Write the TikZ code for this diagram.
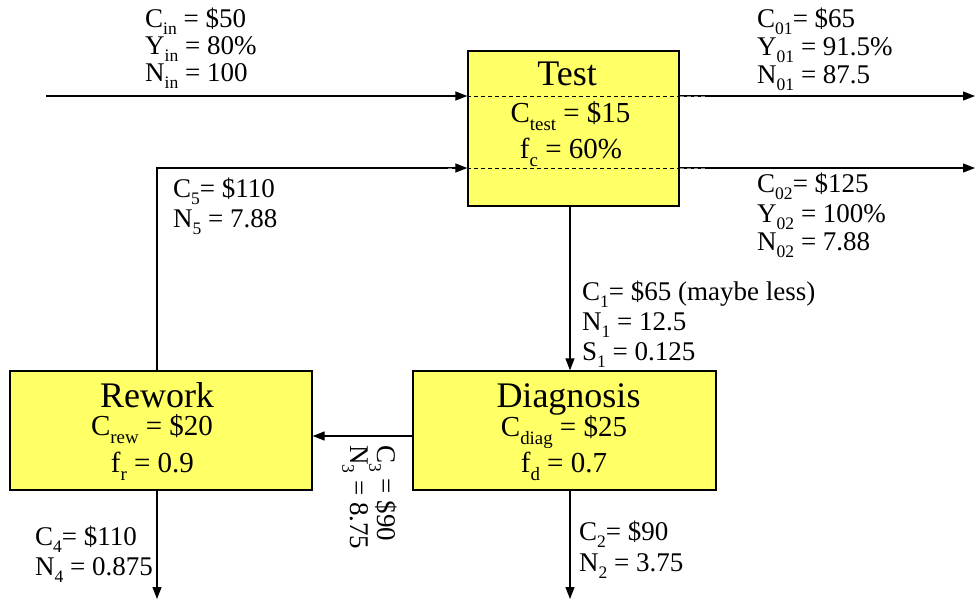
\documentclass[tikz,border=0pt]{standalone}
\usepackage{fontspec}
\setmainfont{Liberation Serif}
\usepackage{graphicx}
\usetikzlibrary{arrows.meta}
% lowered, reduced-size subscript as used in the flow labels
\newcommand\lo[1]{\raisebox{-0.28em}{\scalebox{0.65}{#1}}}
\definecolor{stageyellow}{RGB}{255,255,102}

\begin{document}
\begin{tikzpicture}[x=1pt,y=-1pt,
  flow/.style={line width=1.2pt, -{Triangle[length=12pt,width=9pt]}},
  stage/.style={draw, line width=1.3pt, fill=stageyellow, inner sep=0pt},
  lab/.style={font=\fontsize{27}{30}\selectfont, inner sep=0pt, anchor=base west},
  stagetitle/.style={font=\fontsize{36}{40}\selectfont, inner sep=0pt, anchor=base},
  param/.style={font=\fontsize{29}{32}\selectfont, inner sep=0pt, anchor=base},
  divider/.style={line width=1pt, dash pattern=on 4pt off 3pt}]

\useasboundingbox (0,0) rectangle (977,603);

% process stages
\node[stage, minimum width=211pt, minimum height=155pt] (test) at (573.5,128.5) {};
\node[stage, minimum width=302pt, minimum height=119pt] (rework) at (161,430.5) {};
\node[stage, minimum width=303pt, minimum height=119pt] (diag) at (564.5,430.5) {};

% connector reference points
\coordinate (inStart) at (46,96);
\coordinate (out1) at (975,96);
\coordinate (out2) at (975,168);
\coordinate (fbTop) at (157,168);
\coordinate (testFoot) at ([xshift=-3.5pt]test.south);
\coordinate (linkY) at (0,436);
\coordinate (reworkOut) at (157,599);
\coordinate (diagOut) at (570,599);
\coordinate (sepL) at (448,0);
\coordinate (sepR) at (707,0);

% flows
\draw[flow] (inStart) -- (test.west |- inStart);
\draw[flow] (test.east |- out1) -- (out1);
\draw[flow] (test.east |- out2) -- (out2);
\draw[flow] (testFoot) -- (testFoot |- diag.north);
\draw[flow] (diag.west |- linkY) -- (rework.east |- linkY);
\draw[flow] (fbTop |- rework.north) -- (fbTop) -- (test.west |- fbTop);
\draw[flow] (reworkOut |- rework.south) -- (reworkOut);
\draw[flow] (diagOut |- diag.south) -- (diagOut);

% dashed dividers inside the test stage
\draw[divider] (test.west |- out1) -- (test.east |- out1);
\draw[divider] (test.west |- out2) -- (test.east |- out2);
\draw[divider, black!45] (test.east |- out1) -- (sepR |- out1);
\draw[divider, black!45] (test.east |- out2) -- (sepR |- out2);
\draw[divider, black!45] (sepL |- out2) -- ([xshift=-13pt]test.west |- out2);

% stage texts
\node[stagetitle] (testT) at (567,85) {Test};
\node[param] (testC) at (570.5,122) {C\lo{test} = \$15};
\node[param] (testF) at (571,158) {f\lo{c} = 60\%};

\node[stagetitle] (rewT) at (157,407) {Rework};
\node[param] (rewC) at (152,435) {C\lo{rew} = \$20};
\node[param] (rewF) at (152.5,472) {f\lo{r} = 0.9};

\node[stagetitle] (diagT) at (568.5,407) {Diagnosis};
\node[param] (diagC) at (564,436) {C\lo{diag} = \$25};
\node[param] (diagF) at (564,472) {f\lo{d} = 0.7};

% flow labels
\node[lab] (cin) at (145,27) {C\lo{in} = \$50};
\node[lab] (yin) at (145,54) {Y\lo{in} = 80\%};
\node[lab] (nin) at (145,81) {N\lo{in} = 100};

\node[lab] (c01) at (757,27) {C\lo{01}= \$65};
\node[lab] (y01) at (757,55) {Y\lo{01} = 91.5\%};
\node[lab] (n01) at (757,83) {N\lo{01} = 87.5};

\node[lab] (c02) at (757,192) {C\lo{02}= \$125};
\node[lab] (y02) at (757,222) {Y\lo{02} = 100\%};
\node[lab] (n02) at (757,250) {N\lo{02} = 7.88};

\node[lab] (c5) at (173,197) {C\lo{5}= \$110};
\node[lab] (n5) at (173,227) {N\lo{5} = 7.88};

\node[lab] (c1) at (582,300) {C\lo{1}= \$65 (maybe less)};
\node[lab] (n1) at (582,330) {N\lo{1} = 12.5};
\node[lab] (s1) at (582,360) {S\lo{1} = 0.125};

\node[lab, rotate=-90] (c3) at (377,445) {C\lo{3} = \$90};
\node[lab, rotate=-90] (n3) at (350,445) {N\lo{3} = 8.75};

\node[lab] (c4) at (35,545) {C\lo{4}= \$110};
\node[lab] (n4) at (35,575) {N\lo{4} = 0.875};

\node[lab] (c2) at (579,540) {C\lo{2}= \$90};
\node[lab] (n2) at (579,571) {N\lo{2} = 3.75};
\end{tikzpicture}
\end{document}
